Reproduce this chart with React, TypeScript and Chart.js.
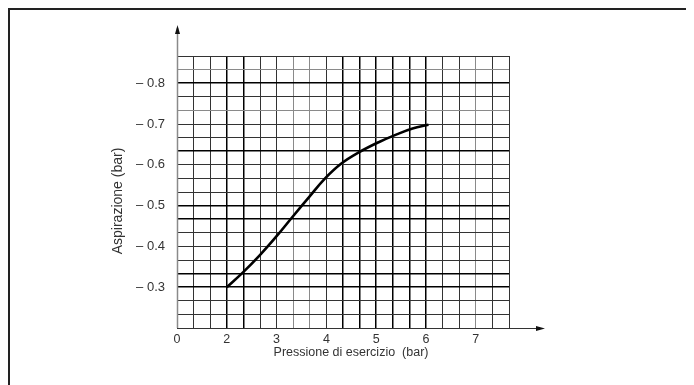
import React, { useEffect, useRef } from "react";
import { Chart, registerables } from "chart.js";

Chart.register(...registerables);

// Curve data (x = pressure in bar, y = suction in bar, shown as negative labels)
const pressure = [2, 2.33, 2.66, 3.0, 3.33, 3.66, 3.96, 4.3, 4.66, 5.06, 5.4, 5.73, 6.05];
const suction = [0.3, 0.337, 0.378, 0.425, 0.474, 0.522, 0.565, 0.603, 0.631, 0.656, 0.674, 0.689, 0.698];

// Axis ticks (broken x axis: "0" is printed at the origin)
const xTickValues = [1, 2, 3, 4, 5, 6, 7];
const xTickLabels = ["0", "2", "3", "4", "5", "6", "7"];
const yTickValues = [0.3, 0.4, 0.5, 0.6, 0.7, 0.8];
const yTickLabels = ["\u2013 0.3", "\u2013 0.4", "\u2013 0.5", "\u2013 0.6", "\u2013 0.7", "\u2013 0.8"];

const xTitle = "Pressione di esercizio  (bar)";
const yTitle = "Aspirazione (bar)";

const X_MIN = 1;
const X_MAX = 1 + 20 / 3;
const Y_MIN = 0.2;
const Y_MAX = 0.2 + 20 / 30;

const FONT = "'Liberation Sans', Arial, sans-serif";

const xThick = [3, 4, 10, 11, 12, 13, 14, 15];
const xLight = [0, 7, 8, 18];
const yThick = [18, 13, 9, 8, 4, 3];
const yLight = [19, 16];

const axesPlugin = {
  id: "axesDecor",
  afterDraw(chart: any) {
    const { ctx, chartArea } = chart;
    const { left, right, top, bottom } = chartArea;
    ctx.save();
    // y axis with arrow
    ctx.strokeStyle = "#8a8a8a";
    ctx.lineWidth = 1.5;
    ctx.beginPath();
    ctx.moveTo(left + 0.5, bottom);
    ctx.lineTo(left + 0.5, top - 28);
    ctx.stroke();
    ctx.fillStyle = "#111";
    ctx.beginPath();
    ctx.moveTo(left + 0.5, top - 31);
    ctx.lineTo(left - 2, top - 22);
    ctx.lineTo(left + 3, top - 22);
    ctx.closePath();
    ctx.fill();
    // x axis extension with arrow
    ctx.strokeStyle = "#333";
    ctx.lineWidth = 1.2;
    ctx.beginPath();
    ctx.moveTo(right, bottom + 0.5);
    ctx.lineTo(right + 34, bottom + 0.5);
    ctx.stroke();
    ctx.fillStyle = "#111";
    ctx.beginPath();
    ctx.moveTo(right + 36, bottom + 0.5);
    ctx.lineTo(right + 27, bottom - 2);
    ctx.lineTo(right + 27, bottom + 3);
    ctx.closePath();
    ctx.fill();
    // titles
    ctx.fillStyle = "#333";
    ctx.textAlign = "center";
    ctx.textBaseline = "middle";
    ctx.font = `12.5px ${FONT}`;
    ctx.fillText(xTitle, 341, 343);
    ctx.font = `14px ${FONT}`;
    ctx.translate(108, 191);
    ctx.rotate(-Math.PI / 2);
    ctx.fillText(yTitle, 0, 0);
    ctx.restore();
  },
};

function gridColor(thick: number[], light: number[]) {
  return (c: any) => (thick.includes(c.index) ? "#000" : light.includes(c.index) ? "#8a8a8a" : "#333");
}
function gridWidth(thick: number[]) {
  return (c: any) => (thick.includes(c.index) ? 1.5 : 1);
}

export default function App() {
  const ref = useRef<HTMLCanvasElement | null>(null);

  useEffect(() => {
    document.documentElement.style.overflow = "hidden";
    document.body.style.overflow = "hidden";
    if (!ref.current) return;
    const chart = new Chart(ref.current, {
      type: "line",
      data: {
        datasets: [
          {
            data: pressure.map((x, i) => ({ x, y: suction[i] })),
            borderColor: "#000",
            borderWidth: 2.6,
            pointRadius: 0,
            fill: false,
            tension: 0.4,
          },
        ],
      },
      options: {
        responsive: false,
        animation: false,
        events: [],
        layout: { padding: { top: 46, right: 185, left: 0, bottom: 0 } },
        plugins: { legend: { display: false }, tooltip: { enabled: false }, title: { display: false } },
        scales: {
          x: {
            type: "linear",
            min: X_MIN,
            max: X_MAX,
            afterBuildTicks: (scale: any) => {
              scale.ticks = Array.from({ length: 21 }, (_, i) => ({ value: X_MIN + i / 3 }));
            },
            afterFit: (scale: any) => {
              scale.height = 57;
            },
            border: { display: false },
            grid: {
              drawTicks: false,
              color: gridColor(xThick, xLight),
              lineWidth: gridWidth(xThick),
            },
            ticks: {
              padding: 4,
              autoSkip: false,
              maxRotation: 0,
              color: "#333",
              font: { family: FONT, size: 12.5 },
              callback: (v: any) => {
                const k = xTickValues.findIndex((t) => Math.abs(t - Number(v)) < 1e-6);
                return k >= 0 ? xTickLabels[k] : "";
              },
            },
          },
          y: {
            type: "linear",
            min: Y_MIN,
            max: Y_MAX,
            afterBuildTicks: (scale: any) => {
              scale.ticks = Array.from({ length: 21 }, (_, i) => ({ value: Y_MIN + i / 30 }));
            },
            afterFit: (scale: any) => {
              scale.width = 167;
            },
            border: { display: false },
            grid: {
              drawTicks: false,
              color: gridColor(yThick, yLight),
              lineWidth: gridWidth(yThick),
            },
            ticks: {
              padding: 12,
              autoSkip: false,
              color: "#333",
              font: { family: FONT, size: 13 },
              callback: (v: any) => {
                const k = yTickValues.findIndex((t) => Math.abs(t - Number(v)) < 1e-6);
                return k >= 0 ? yTickLabels[k] : "";
              },
            },
          },
        },
      },
      plugins: [axesPlugin],
    } as any);
    return () => chart.destroy();
  }, []);

  return (
    <div
      style={{
        width: 686,
        height: 377,
        borderTop: "2px solid #222",
        borderLeft: "2px solid #222",
        boxSizing: "border-box",
        background: "#fff",
      }}
    >
      <canvas ref={ref} width={684} height={375} style={{ width: 684, height: 375, display: "block" }} />
    </div>
  );
}
